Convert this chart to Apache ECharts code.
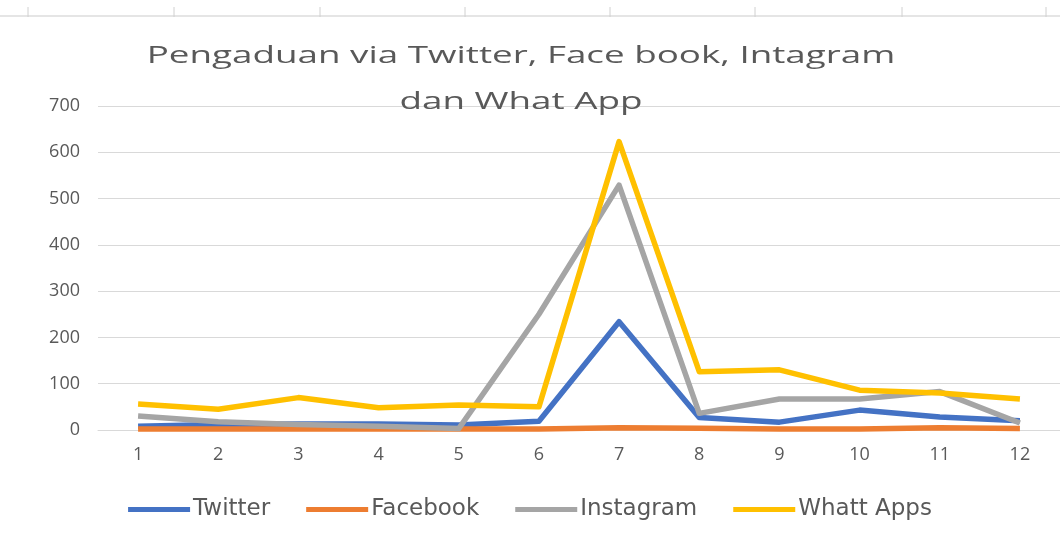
<!DOCTYPE html>
<html>
<head>
<meta charset="utf-8">
<script src="https://cdn.jsdelivr.net/npm/echarts@6/dist/echarts.min.js"></script>
<style>
  html, body { margin: 0; padding: 0; background: #fff; }
  #main { width: 1060px; height: 537px; }
</style>
</head>
<body>
<div id="main"></div>
<script>
// bulan 1..12
const months = ['1', '2', '3', '4', '5', '6', '7', '8', '9', '10', '11', '12']
// jumlah pengaduan per saluran
const twitter = [8, 12, 13, 13, 11, 19, 234, 27, 17, 43, 28, 20]
const facebook = [2, 2, 2, 2, 2, 2, 5, 4, 2, 2, 5, 3]
const instagram = [30, 18, 12, 8, 3, 250, 529, 36, 67, 67, 83, 15]
const whatsapp = [56, 45, 70, 48, 54, 50, 623, 126, 130, 86, 80, 67]

const seriesNames = ['Twitter', 'Facebook', 'Instagram', 'Whatt Apps']
const seriesColors = ['#4472C4', '#ED7D31', '#A5A5A5', '#FFC000']
const seriesData = [twitter, facebook, instagram, whatsapp]

const font = 'Open Sans'
const textColor = '#595959'
const titleText = 'Pengaduan via Twitter, Face book, Intagram\ndan What App'

// garis tipis di atas (sisa sel spreadsheet)
const topTicks = [28, 174, 320, 465, 610, 755, 902, 1046]
const decor = [{
  type: 'line',
  shape: { x1: 0, y1: 16, x2: 1060, y2: 16 },
  style: { stroke: '#dcdcdc', lineWidth: 1.5 }
}].concat(topTicks.map(x => ({
  type: 'line',
  shape: { x1: x, y1: 7, x2: x, y2: 17 },
  style: { stroke: '#d0d0d0', lineWidth: 1 }
})))

// judul: teks excel aslinya agak melebar, jadi pakai scaleX
decor.push({
  type: 'text',
  x: 521,
  y: 33,
  z: 100,
  scaleX: 1.6,
  style: {
    text: titleText,
    fontFamily: font,
    fontSize: 23,
    lineHeight: 46,
    fill: textColor,
    textAlign: 'center',
    textVerticalAlign: 'top'
  }
})

const myChart = echarts.init(document.querySelector('#main'))
myChart.setOption({
  animation: false,
  backgroundColor: '#fff',
  graphic: decor,
  legend: {
    bottom: 11,
    left: 'center',
    icon: 'rect',
    itemWidth: 62,
    itemHeight: 5,
    itemGap: 36,
    textStyle: { fontFamily: 'DejaVu Sans', fontSize: 23, color: textColor, padding: [0, 0, 0, -2] },
    data: seriesNames
  },
  grid: {
    left: 98,
    top: 106,
    width: 965,
    height: 324
  },
  xAxis: {
    type: 'category',
    data: months,
    boundaryGap: true,
    axisLine: { lineStyle: { color: '#d9d9d9', width: 1 } },
    axisTick: { show: false },
    axisLabel: { fontFamily: font, fontSize: 18, color: textColor, margin: 16 }
  },
  yAxis: {
    type: 'value',
    min: 0,
    max: 700,
    interval: 100,
    axisLine: { show: false },
    axisTick: { show: false },
    splitLine: { lineStyle: { color: '#d9d9d9', width: 1 } },
    axisLabel: { fontFamily: font, fontSize: 18, color: textColor, margin: 18 }
  },
  series: seriesNames.map((name, i) => ({
    name: name,
    type: 'line',
    data: seriesData[i],
    symbol: 'none',
    lineStyle: { width: 5.5, color: seriesColors[i], join: 'round' },
    itemStyle: { color: seriesColors[i] },
    z: 2 + i
  }))
})
</script>
</body>
</html>
